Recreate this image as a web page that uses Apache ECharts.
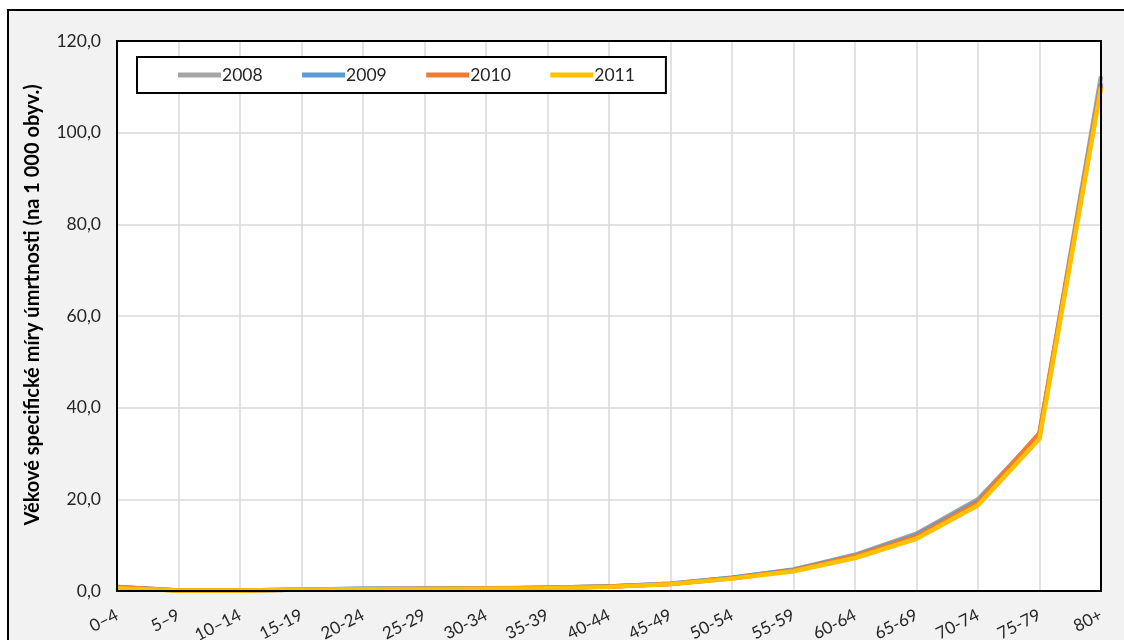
<!DOCTYPE html>
<html>
<head>
<meta charset="utf-8">
<script src="https://cdn.jsdelivr.net/npm/echarts@6/dist/echarts.min.js"></script>
<style>
  html, body { margin: 0; padding: 0; background: #ffffff; }
  #chart { width: 1124px; height: 640px; }
</style>
</head>
<body>
<div id="chart"></div>
<script>
// Age groups (first three use an en dash, as printed)
const ageGroups = ['0–4', '5–9', '10–14', '15-19', '20-24', '25-29', '30-34', '35-39',
  '40-44', '45-49', '50-54', '55-59', '60-64', '65-69', '70-74', '75-79', '80+'];

// Age-specific death rates per 1 000 inhabitants
const rates2008 = [0.9, 0.1, 0.1, 0.3, 0.5, 0.5, 0.6, 0.7, 1.0, 1.6, 2.9, 4.7, 7.9, 12.5, 20.0, 34.2, 112.3];
const rates2009 = [0.8, 0.1, 0.1, 0.3, 0.5, 0.5, 0.5, 0.7, 1.0, 1.6, 2.9, 4.6, 7.7, 12.2, 19.6, 34.0, 110.8];
const rates2010 = [0.9, 0.1, 0.1, 0.3, 0.4, 0.5, 0.5, 0.7, 1.0, 1.5, 2.8, 4.5, 7.6, 11.9, 19.3, 34.5, 110.3];
const rates2011 = [0.6, 0.1, 0.1, 0.3, 0.4, 0.4, 0.5, 0.6, 0.9, 1.5, 2.7, 4.3, 7.2, 11.4, 18.7, 33.2, 109.8];

const years = ['2008', '2009', '2010', '2011'];
const yearColors = ['#a5a5a5', '#5b9bd5', '#ed7d31', '#ffc000'];
const yTicks = { min: 0, max: 120, step: 20 };
const yTitle = 'Věkové specifické míry úmrtnosti (na 1 000 obyv.)';

const seriesData = [rates2008, rates2009, rates2010, rates2011];
const FONT = 'Lato, "Noto Sans", sans-serif';

// plot rectangle (pixels inside the 1124x640 canvas)
const plot = { left: 117, right: 23, top: 41, bottom: 49 };

const chart = echarts.init(document.getElementById('chart'), null, { renderer: 'canvas' });

chart.setOption({
  animation: false,
  backgroundColor: '#ffffff',
  graphic: [{
    // outer frame of the chart area
    type: 'rect',
    z: -10,
    silent: true,
    shape: { x: 8, y: 10, width: 1200, height: 700 },
    style: { fill: '#f2f2f2', stroke: '#000000', lineWidth: 2 }
  }, {
    // plot area border drawn above the gridlines
    type: 'rect',
    z: 50,
    silent: true,
    shape: {
      x: plot.left, y: plot.top,
      width: 1124 - plot.left - plot.right,
      height: 640 - plot.top - plot.bottom
    },
    style: { fill: null, stroke: '#000000', lineWidth: 2 }
  }],
  grid: {
    left: plot.left, right: plot.right, top: plot.top, bottom: plot.bottom,
    show: true,
    backgroundColor: '#ffffff',
    borderWidth: 0,
    containLabel: false,
    outerBoundsMode: 'none'
  },
  legend: {
    left: 137, top: 57,
    data: years,
    icon: 'rect',
    itemWidth: 43,
    itemHeight: 5,
    itemGap: 39.5,
    padding: [9, 31, 9, 41],
    backgroundColor: '#ffffff',
    borderColor: '#000000',
    borderWidth: 2,
    textStyle: { fontFamily: FONT, fontSize: 17.5, color: '#262626', padding: [0, 0, 0, -4] }
  },
  xAxis: {
    type: 'category',
    data: ageGroups,
    boundaryGap: false,
    axisLine: { lineStyle: { color: '#000000', width: 2 } },
    axisTick: { show: false },
    splitLine: { show: true, lineStyle: { color: '#d9d9d9', width: 1.5 } },
    axisLabel: {
      interval: 0,
      rotate: 27,
      margin: 23,
      fontFamily: FONT,
      fontSize: 17,
      color: '#262626'
    }
  },
  yAxis: {
    type: 'value',
    min: yTicks.min,
    max: yTicks.max,
    interval: yTicks.step,
    name: yTitle,
    nameLocation: 'middle',
    nameGap: 74,
    nameTextStyle: {
      fontFamily: FONT, fontSize: 20, fontWeight: 'bold', color: '#000000',
      padding: [0, 0, 0, 22]
    },
    axisLine: { show: false },
    axisTick: { show: false },
    splitLine: { show: true, lineStyle: { color: '#d9d9d9', width: 1.5 } },
    axisLabel: {
      margin: 16,
      fontFamily: FONT,
      fontSize: 17.5,
      color: '#262626',
      formatter: v => v.toFixed(1).replace('.', ',')
    }
  },
  series: years.map((y, i) => ({
    name: y,
    type: 'line',
    data: seriesData[i],
    showSymbol: false,
    symbol: 'none',
    color: yearColors[i],
    lineStyle: { width: 4.5, color: yearColors[i], join: 'round' },
    z: 2 + i
  }))
});
</script>
</body>
</html>
